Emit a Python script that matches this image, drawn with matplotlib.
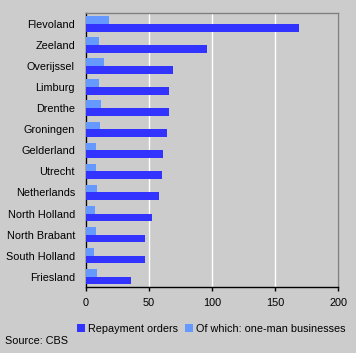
import numpy as np
import matplotlib
matplotlib.use("Agg")
import matplotlib.pyplot as plt

plt.rcParams['font.family'] = ['Liberation Sans', 'DejaVu Sans']

provinces = ['Flevoland', 'Zeeland', 'Overijssel', 'Limburg', 'Drenthe',
             'Groningen', 'Gelderland', 'Utrecht', 'Netherlands',
             'North Holland', 'North Brabant', 'South Holland', 'Friesland']
repayment = [169, 96, 69, 66, 66, 64.5, 61, 60.5, 58, 52.5, 47, 47, 36]
one_man = [18.5, 10, 14, 10.5, 12, 11.3, 8.2, 8.2, 9, 7.4, 8.2, 6.6, 9]

BG = '#cccccc'
DARK = '#3333ff'
LIGHT = '#6699ff'
FS = 7.8

fig = plt.figure(figsize=(3.56, 3.53), dpi=100, facecolor=BG)
ax = fig.add_axes([86/356, 1 - 287.3/353, (338.3-86)/356, (287.3-13.3)/353])
ax.set_facecolor(BG)

y = np.arange(len(provinces))
h = 0.365
ax.barh(y - h/2, one_man, height=h, color=LIGHT, label='Of which: one-man businesses', zorder=3)
ax.barh(y + h/2, repayment, height=h, color=DARK, label='Repayment orders', zorder=3)

ax.set_ylim(len(provinces) - 0.5, -0.5)
ax.set_xlim(0, 200)
ax.set_xticks([0, 50, 100, 150, 200])
ax.set_yticks(y)
ax.set_yticklabels(provinces)
ax.tick_params(axis='y', length=0, pad=8, labelsize=FS)
ax.tick_params(axis='x', length=3, width=1, pad=5, labelsize=FS, direction='out')
ax.grid(axis='x', color='white', linewidth=1, zorder=1)

for s in ['left', 'bottom']:
    ax.spines[s].set_color('black')
    ax.spines[s].set_linewidth(1)
for s in ['top', 'right']:
    ax.spines[s].set_color('#808080')
    ax.spines[s].set_linewidth(1)

handles, labels = ax.get_legend_handles_labels()
leg = fig.legend(handles[::-1], labels[::-1], loc='center left', ncol=2,
                 bbox_to_anchor=(77/356, 1 - 329/353), frameon=False,
                 fontsize=FS, handlelength=0.75, handleheight=0.75,
                 handletextpad=0.3, columnspacing=0.6, borderpad=0, borderaxespad=0)

fig.text(5/356, 1 - 341/353, 'Source: CBS', fontsize=FS, va='center', ha='left')

fig.savefig('out.png', dpi=100, facecolor=BG)
